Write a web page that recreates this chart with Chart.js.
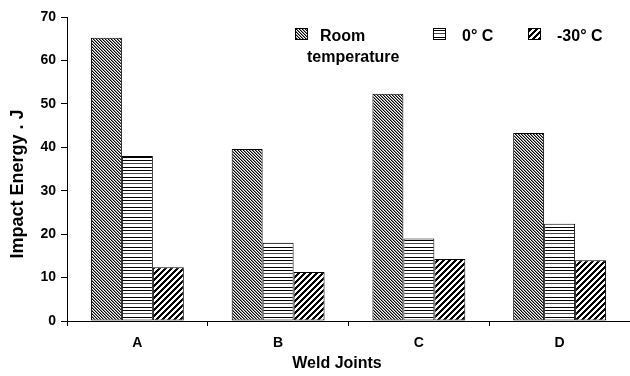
<!DOCTYPE html>
<html>
<head>
<meta charset="utf-8">
<script src="https://cdn.jsdelivr.net/npm/chart.js@4/dist/chart.umd.min.js"></script>
<style>
  html, body { margin: 0; padding: 0; background: #fff; }
  #wrap { width: 630px; height: 376px; }
</style>
</head>
<body>
<div id="wrap"><canvas id="chart" width="630" height="376"></canvas></div>
<script>
const categories = ['A', 'B', 'C', 'D'];
const roomTemp = [65.2, 39.6, 52.3, 43.3];
const zeroC = [38.0, 18.0, 19.0, 22.4];
const minus30C = [12.4, 11.3, 14.3, 14.0];
const seriesLabels = [['Room', 'temperature'], ['0° C'], ['-30° C']];
const yTicks = [0, 10, 20, 30, 40, 50, 60, 70];
const xTitle = 'Weld Joints';
const yTitle = 'Impact Energy . J';

const FONT = "'Liberation Sans', Arial, sans-serif";

// little tiles for the hatch fills
function makePattern(w, h, inkAt) {
  const c = document.createElement('canvas');
  c.width = w; c.height = h;
  const g = c.getContext('2d');
  g.fillStyle = '#fff';
  g.fillRect(0, 0, w, h);
  for (let y = 0; y < h; y++) {
    for (let x = 0; x < w; x++) {
      const ink = inkAt(x, y);
      if (ink) {
        g.fillStyle = ink;
        g.fillRect(x, y, 1, 1);
      }
    }
  }
  return g.createPattern(c, 'repeat');
}

const ctx = document.getElementById('chart').getContext('2d');
const backHatch = makePattern(3, 3, (x, y) => {
  const k = ((x - y) % 3 + 3) % 3;
  return k === 0 ? '#000' : (k === 1 ? '#8a8a8a' : null);
});
const horizHatch = makePattern(1, 10, (x, y) => (y === 0 || y === 7) ? '#000' : (y === 3 ? '#444' : null));
const fwdHatch = makePattern(6, 6, (x, y) => (x + y) % 6 < 3 ? '#000' : null);

const fills = [backHatch, horizHatch, fwdHatch];

// legend + axis titles drawn by hand (first label wraps, titles sit off-centre)
const extras = {
  id: 'extras',
  afterDraw(chart) {
    const {ctx, chartArea} = chart;
    const spots = [
      {sx: 228, tx: 253, tx2: 240},
      {sx: 366, tx: 395},
      {sx: 461, tx: 490}
    ];
    ctx.save();
    ctx.font = 'bold 16px ' + FONT;
    ctx.textBaseline = 'alphabetic';
    seriesLabels.forEach((lines, i) => {
      const s = spots[i];
      const x0 = chartArea.left + s.sx;
      const y0 = chartArea.top + 11;
      ctx.fillStyle = fills[i];
      ctx.fillRect(x0, y0, 13, 12);
      ctx.strokeStyle = '#000';
      ctx.lineWidth = 1;
      ctx.strokeRect(x0 + 0.5, y0 + 0.5, 12, 11);
      ctx.fillStyle = '#000';
      ctx.fillText(lines[0], chartArea.left + s.tx, y0 + 13);
      if (lines[1]) ctx.fillText(lines[1], chartArea.left + s.tx2, y0 + 34);
    });

    ctx.textAlign = 'center';
    ctx.textBaseline = 'middle';
    ctx.font = 'bold 16px ' + FONT;
    ctx.fillText(xTitle, chartArea.left + 270, 364);

    ctx.translate(18, chartArea.top + 167);
    ctx.rotate(-Math.PI / 2);
    ctx.font = 'bold 18px ' + FONT;
    ctx.fillText(yTitle, 0, 0);
    ctx.restore();
  }
};

const datasets = [roomTemp, zeroC, minus30C].map((vals, i) => ({
  label: seriesLabels[i].join(' '),
  data: vals,
  backgroundColor: fills[i],
  borderColor: '#000',
  borderWidth: 1,
  borderSkipped: false,
  barPercentage: 1,
  categoryPercentage: 0.66
}));

new Chart(ctx, {
  type: 'bar',
  data: {labels: categories, datasets: datasets},
  plugins: [extras],
  options: {
    responsive: false,
    animation: false,
    layout: {padding: {top: 17, right: 0, bottom: 0, left: 0}},
    plugins: {
      legend: {display: false},
      tooltip: {enabled: false}
    },
    scales: {
      x: {
        grid: {display: true, drawOnChartArea: false, drawTicks: true, tickLength: 5, color: '#000', offset: true},
        border: {display: true, color: '#000', width: 1},
        ticks: {color: '#000', font: {family: FONT, size: 14, weight: 'bold'}, padding: 9},
        afterFit(scale) { scale.height = 55; }
      },
      y: {
        min: 0, max: 70,
        afterBuildTicks(scale) { scale.ticks = yTicks.map(v => ({value: v})); },
        grid: {display: true, drawOnChartArea: false, drawTicks: true, tickLength: 6, color: '#000'},
        border: {display: true, color: '#000', width: 1},
        ticks: {color: '#000', font: {family: FONT, size: 14, weight: 'bold'}, padding: 5},
        afterFit(scale) { scale.width = 67; }
      }
    }
  }
});
</script>
</body>
</html>
